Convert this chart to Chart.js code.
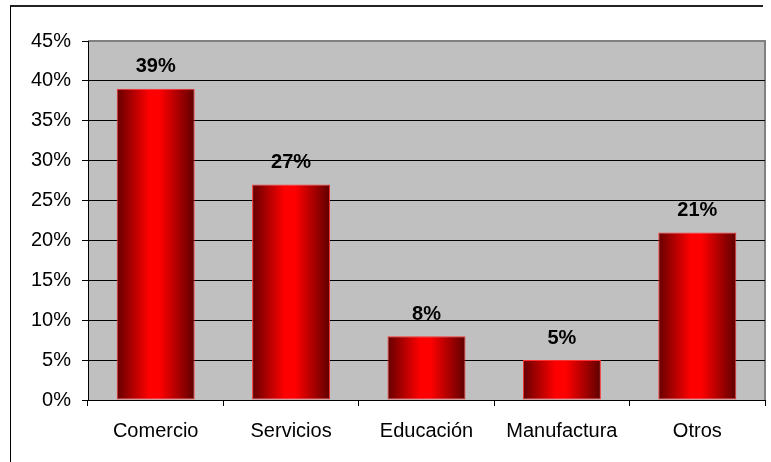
<!DOCTYPE html>
<html>
<head>
<meta charset="utf-8">
<script src="https://cdn.jsdelivr.net/npm/chart.js@4/dist/chart.umd.min.js"></script>
<style>
  html, body { margin: 0; padding: 0; background: #fff; }
  #wrap { position: relative; width: 771px; height: 462px; overflow: hidden; }
  #frame { position: absolute; left: 10px; top: 5px; width: 752px; height: 470px;
           border-left: 1px solid #000; border-top: 2px solid #222; pointer-events: none; }
  canvas { position: absolute; left: 0; top: 0; }
</style>
</head>
<body>
<div id="wrap">
  <canvas id="myChart" width="771" height="462"></canvas>
  <div id="frame"></div>
</div>
<script>
// sectors and their share (%)
const categories = ["Comercio", "Servicios", "Educación", "Manufactura", "Otros"];
const shares = [39, 27, 8, 5, 21];
const yTicks = [0, 5, 10, 15, 20, 25, 30, 35, 40, 45];

const BAR_PCT = 0.576;
const FONT = "'Liberation Sans', Arial, sans-serif";

Chart.defaults.color = "#000";
Chart.defaults.font.family = FONT;

// cylinder look: dark edges, bright red middle
function barGradient(c) {
  const chart = c.chart;
  const xs = chart.scales.x;
  if (!xs || c.dataIndex === undefined) return "#ff0000";
  const cx = xs.getPixelForValue(c.dataIndex);
  const w = (xs.width / categories.length) * BAR_PCT;
  if (!isFinite(cx) || !isFinite(w) || w <= 0) return "#ff0000";
  const g = chart.ctx.createLinearGradient(cx - w / 2, 0, cx + w / 2, 0);
  g.addColorStop(0, "#650000");
  g.addColorStop(0.42, "#ff0000");
  g.addColorStop(0.55, "#ff0000");
  g.addColorStop(1, "#5e0000");
  return g;
}

// grey plot background + grey top/right border
const plotBg = {
  id: "plotBg",
  beforeDraw(chart) {
    const { ctx, chartArea: a } = chart;
    ctx.save();
    ctx.fillStyle = "#c0c0c0";
    ctx.fillRect(a.left, a.top, a.right - a.left, a.bottom - a.top);
    ctx.strokeStyle = "#808080";
    ctx.lineWidth = 2;
    ctx.beginPath();
    ctx.moveTo(a.left, a.top);
    ctx.lineTo(a.right, a.top);
    ctx.lineTo(a.right, a.bottom);
    ctx.stroke();
    ctx.restore();
  }
};

// percentage above each bar
const valueLabels = {
  id: "valueLabels",
  afterDatasetsDraw(chart) {
    const { ctx } = chart;
    const meta = chart.getDatasetMeta(0);
    ctx.save();
    ctx.font = "bold 20px " + FONT;
    ctx.fillStyle = "#000";
    ctx.textAlign = "center";
    ctx.textBaseline = "middle";
    meta.data.forEach((bar, i) => {
      ctx.fillText(shares[i] + "%", bar.x, bar.y - 22);
    });
    ctx.restore();
  }
};

const ctx = document.getElementById("myChart");

new Chart(ctx, {
  type: "bar",
  data: {
    labels: categories,
    datasets: [
      {
        data: shares,
        backgroundColor: barGradient,
        borderColor: "#ff3030",
        borderWidth: 1,
        borderSkipped: false,
        categoryPercentage: 1,
        barPercentage: BAR_PCT,
      },
    ],
  },
  options: {
    responsive: false,
    animation: false,
    layout: { padding: { top: 41, right: 6, left: 0, bottom: 0 } },
    plugins: {
      legend: { display: false },
      tooltip: { enabled: false },
    },
    scales: {
      x: {
        afterFit(scale) { scale.height = 62; },
        grid: {
          display: true,
          drawOnChartArea: false,
          offset: true,
          tickLength: 6,
          color: "#000",
        },
        border: { color: "#000", width: 1 },
        ticks: { font: { size: 20 }, padding: 13, maxRotation: 0 },
      },
      y: {
        min: 0,
        max: 45,
        afterFit(scale) { scale.width = 88; },
        afterBuildTicks(scale) { scale.ticks = yTicks.map(v => ({ value: v })); },
        grid: {
          color: (c) => (c.tick && c.tick.value === 45 ? "#808080" : "#000"),
          tickColor: "#000",
          tickLength: 6,
        },
        border: { color: "#000", width: 1 },
        ticks: {
          font: { size: 20 },
          padding: 11,
          callback: (v) => v + "%",
        },
      },
    },
  },
  plugins: [plotBg, valueLabels],
});
</script>
</body>
</html>
